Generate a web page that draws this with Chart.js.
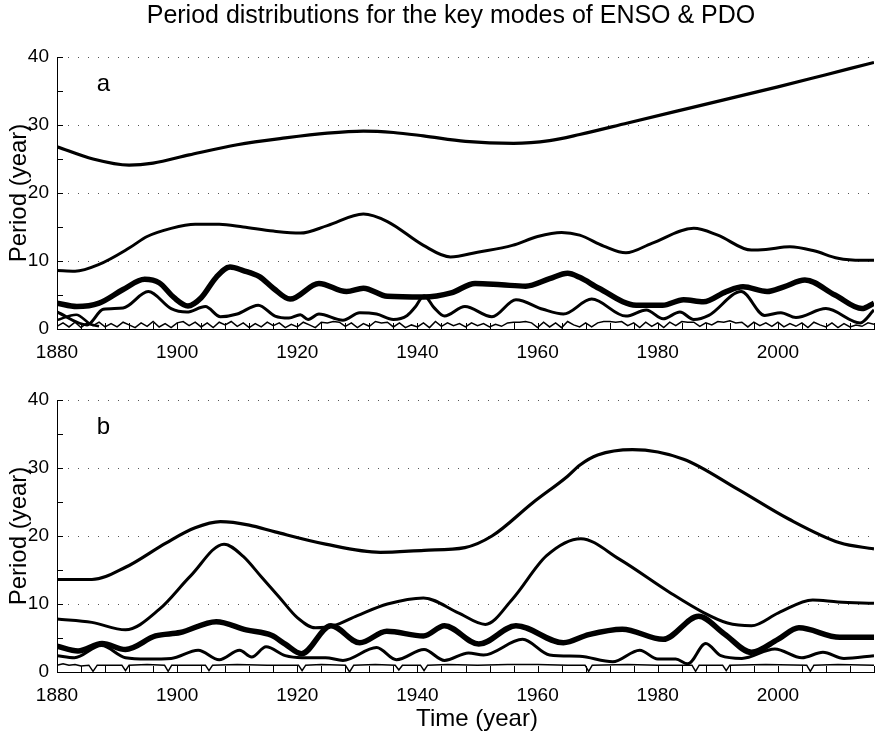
<!DOCTYPE html>
<html>
<head>
<meta charset="utf-8">
<script src="https://cdn.jsdelivr.net/npm/chart.js@4/dist/chart.umd.min.js"></script>
<style>
  html, body { margin: 0; padding: 0; background: #fff; }
  #wrap { position: relative; width: 878px; height: 738px; overflow: hidden; font-family: "Liberation Sans", Arial, sans-serif; }
  #title { position: absolute; left: 0; top: 0; width: 902px; text-align: center; font-size: 25px; line-height: 28px; color: #000; }
  #xtitle { position: absolute; left: 0; top: 704px; width: 954px; text-align: center; font-size: 24px; line-height: 28px; color: #000; }
  #ca { position: absolute; left: 0; top: 0; }
  #cb { position: absolute; left: 0; top: 370px; }
</style>
</head>
<body>
<div id="wrap">
  <canvas id="ca" width="878" height="370"></canvas>
  <canvas id="cb" width="878" height="368"></canvas>
  <div id="title">Period distributions for the key modes of ENSO &amp; PDO</div>
  <div id="xtitle">Time (year)</div>
</div>
<script>
// ---- panel a ----
const aTopYears = [1880, 1886, 1892, 1896, 1902, 1910, 1918, 1925, 1931, 1936, 1941, 1948, 1956, 1962, 1967, 1975, 1983, 1991, 2000, 2008, 2016];
const aTopVals = [26.8, 25.0, 24.1, 24.4, 25.6, 27.1, 28.1, 28.8, 29.1, 28.9, 28.4, 27.6, 27.3, 27.7, 28.6, 30.3, 32.0, 33.7, 35.6, 37.4, 39.2];

const aMidYears = [1880, 1883, 1887, 1892, 1895, 1899, 1903, 1907, 1911, 1916, 1920.5, 1925, 1931, 1935, 1941, 1945.5, 1950, 1955.8, 1960, 1964, 1967, 1971, 1974.7, 1979, 1986, 1990, 1995.6, 1998, 2002, 2006, 2010, 2014, 2016];
const aMidVals = [8.6, 8.5, 9.5, 11.9, 13.6, 14.8, 15.4, 15.4, 15.0, 14.4, 14.1, 15.2, 16.9, 15.8, 12.3, 10.6, 11.3, 12.3, 13.6, 14.2, 13.8, 12.2, 11.2, 12.6, 14.8, 13.8, 11.6, 11.7, 12.1, 11.5, 10.4, 10.1, 10.1];

const aThickYears = [1880, 1883.3, 1887, 1891, 1894.6, 1897, 1899.5, 1901.8, 1904, 1906.5, 1908.8, 1911, 1913.7, 1916, 1918.8, 1923.6, 1928.2, 1931, 1935, 1941, 1945.6, 1949.6, 1954, 1958, 1962, 1965, 1967, 1970.2, 1976.4, 1980.8, 1984.3, 1987.6, 1991.4, 1994.2, 1998.2, 2001, 2004.5, 2009.5, 2014, 2016];
const aThickVals = [3.8, 3.3, 3.8, 5.8, 7.3, 6.8, 4.6, 3.4, 4.6, 7.6, 9.1, 8.6, 7.7, 6.0, 4.4, 6.7, 5.5, 6.0, 4.8, 4.7, 5.3, 6.7, 6.5, 6.3, 7.4, 8.2, 7.6, 6.0, 3.5, 3.5, 4.3, 4.0, 5.5, 6.2, 5.5, 6.2, 7.2, 5.0, 3.0, 3.8];

const aMedYears = [1880, 1885, 1887.7, 1891, 1895.2, 1899, 1901.6, 1904.7, 1907.2, 1910, 1913.5, 1916.3, 1918.6, 1920.5, 1921.8, 1923.6, 1927.6, 1930.4, 1933.2, 1936, 1938.3, 1939.7, 1941.1, 1942.8, 1944.5, 1947.9, 1952.4, 1956.4, 1960.9, 1964.3, 1969, 1974.7, 1978.1, 1980.9, 1983.7, 1986, 1988.5, 1993.9, 1997.8, 2000.5, 2003, 2008, 2013.7, 2016];
const aMedVals = [2.5, 0.6, 2.9, 3.1, 5.5, 3.0, 2.5, 3.3, 1.8, 2.2, 3.5, 1.9, 1.6, 2.1, 1.4, 2.2, 1.3, 2.4, 2.2, 1.4, 2.0, 3.3, 4.9, 3.1, 1.9, 3.3, 1.8, 4.3, 2.9, 2.2, 4.4, 1.9, 2.8, 1.5, 2.5, 1.4, 2.0, 5.5, 2.0, 2.4, 1.7, 3.0, 0.9, 2.8];

const aShortYears = [1880, 1883.2, 1885.6, 1887];
const aShortVals = [1.3, 2.1, 0.7, 0.4];

// yearly, 1880..2016
const aThinVals = [
  0.4, 0.9, 0.3, 1.0, 0.2, 0.9, 0.5, 1.0, 0.3, 0.8,
  0.3, 1.0, 0.6, 0.2, 0.9, 0.4, 1.1, 0.3, 0.8, 0.2,
  0.9, 1.1, 0.5, 1.0, 0.3, 0.9, 0.2, 1.0, 0.6, 1.1,
  0.4, 0.9, 0.2, 0.8, 0.3, 1.0, 0.5, 0.9, 0.2, 0.7,
  0.3, 1.0, 0.6, 0.2, 1.0, 0.9, 1.1, 1.0, 0.4, 0.9,
  0.2, 0.8, 0.4, 1.1, 0.9, 1.0, 0.3, 0.9, 0.2, 0.6,
  0.3, 0.9, 0.2, 1.1, 0.4, 0.9, 0.5, 0.8, 0.3, 0.9,
  0.5, 0.8, 0.3, 0.7, 0.4, 0.9, 1.0, 1.0, 1.1, 0.9,
  0.2, 1.0, 0.3, 0.9, 0.2, 1.1, 0.6, 0.3, 0.9, 0.3,
  0.9, 1.1, 1.1, 1.0, 1.1, 0.5, 0.9, 0.2, 1.0, 0.4,
  0.9, 0.2, 1.0, 0.5, 1.1, 1.0, 1.0, 0.4, 0.9, 0.6,
  1.1, 1.0, 1.2, 0.9, 1.0, 0.3, 1.0, 0.5, 0.9, 0.4,
  1.0, 0.3, 0.8, 0.4, 0.9, 0.2, 1.0, 0.6, 0.3, 0.9,
  0.2, 0.8, 0.3, 0.6, 0.4, 0.9, 0.7
];

// ---- panel b ----
const bTopYears = [1880, 1885.8, 1891.4, 1898.2, 1903, 1907.2, 1912, 1916.3, 1924.7, 1933.8, 1941.1, 1947.9, 1952.4, 1959.2, 1965, 1967, 1970, 1975.8, 1984.3, 1993.3, 2001.8, 2010.3, 2016];
const bTopVals = [13.6, 13.6, 15.4, 19.0, 21.2, 22.1, 21.6, 20.6, 18.8, 17.6, 17.9, 18.3, 20.0, 24.9, 28.8, 30.4, 31.9, 32.7, 31.3, 26.9, 22.5, 19.0, 18.1];

const bMidYears = [1880, 1885.8, 1891.4, 1897, 1902.2, 1907.8, 1911, 1914, 1917, 1920, 1923, 1926, 1930, 1935, 1941, 1946.8, 1951.3, 1955.8, 1961.5, 1967.2, 1973.6, 1982, 1987.7, 1991.6, 1995.6, 2000.1, 2005.8, 2010, 2016];
const bMidVals = [7.8, 7.3, 6.2, 9.2, 14.1, 18.8, 17.0, 14.0, 11.0, 8.0, 6.5, 6.8, 8.3, 10.0, 10.9, 8.7, 7.0, 10.7, 17.1, 19.6, 16.6, 11.7, 8.7, 7.2, 6.8, 8.7, 10.6, 10.3, 10.1];

const bThickYears = [1880, 1883.5, 1887.5, 1891.4, 1896.4, 1900.5, 1906.5, 1911.5, 1915.7, 1918, 1920.7, 1925.6, 1930.4, 1934.9, 1941, 1944.5, 1950.2, 1956.4, 1964.3, 1968.5, 1974.1, 1980.9, 1986.8, 1991.1, 1995.6, 2000, 2003.5, 2010.3, 2016];
const bThickVals = [3.8, 3.1, 4.2, 3.3, 5.3, 5.8, 7.4, 6.2, 5.4, 4.1, 2.7, 6.8, 4.3, 6.0, 5.3, 6.8, 4.1, 6.8, 4.3, 5.5, 6.3, 4.8, 8.2, 5.6, 2.9, 4.8, 6.5, 5.1, 5.1];

const bMedYears = [1880, 1882.9, 1887.4, 1891.4, 1895, 1899, 1903.5, 1907, 1910.4, 1912.4, 1914.8, 1918, 1920.8, 1924.7, 1927.6, 1933.2, 1936.5, 1941.1, 1944.5, 1948.5, 1951, 1957.5, 1962, 1967, 1972.5, 1977, 1980, 1983, 1985, 1988, 1990.5, 1994, 1999.5, 2004, 2007.5, 2011, 2016];
const bMedVals = [2.4, 2.1, 3.9, 2.1, 1.9, 2.0, 3.2, 1.8, 3.2, 2.2, 3.7, 2.4, 2.1, 2.1, 1.7, 3.6, 1.8, 3.3, 1.7, 2.8, 2.5, 4.8, 2.5, 2.3, 1.5, 3.2, 1.9, 1.9, 1.2, 4.2, 2.4, 2.0, 3.4, 2.1, 2.9, 2.0, 2.4];

const bThinYears = [1880, 1881, 1882, 1883, 1884, 1885.3, 1886, 1886.7, 1889, 1890.8, 1891.4, 1892, 1895, 1897.9, 1898.5, 1899.1, 1902, 1904.7, 1905.3, 1905.9, 1910, 1915, 1920.2, 1920.8, 1921.4, 1924, 1928, 1928.7, 1929.4, 1933, 1936.3, 1936.9, 1937.5, 1940.5, 1941.1, 1941.7, 1945, 1950, 1955, 1960, 1965, 1967.9, 1968.5, 1969.1, 1975, 1980, 1985.7, 1986.3, 1986.9, 1990.8, 1991.4, 1992, 1998, 2004.8, 2005.4, 2006, 2010, 2016];
const bThinVals = [1.0, 1.2, 1.0, 1.1, 0.9, 1.0, 0.1, 1.0, 1.0, 1.0, 0.2, 1.0, 1.1, 1.0, 0.1, 1.0, 1.0, 1.0, 0.2, 1.0, 1.1, 1.0, 1.0, 0.2, 1.0, 1.1, 1.0, 0.0, 1.0, 1.1, 1.0, 0.3, 1.0, 1.0, 0.2, 1.0, 1.1, 1.0, 1.1, 1.1, 1.0, 1.0, 0.1, 1.0, 1.1, 1.0, 1.0, 0.1, 1.0, 1.0, 0.2, 1.0, 1.1, 1.0, 0.1, 1.0, 1.1, 1.0];

const xLabelEvery = 20;
const yTicks = [0, 10, 20, 30, 40];

Chart.defaults.font.family = "'Liberation Sans', Arial, sans-serif";
Chart.defaults.font.size = 19;
Chart.defaults.color = "#000";

const pts = (xs, ys) => xs.map((x, i) => ({ x, y: ys[i] }));
const smooth = (xs, ys, w) => ({ data: pts(xs, ys), borderColor: "#000", borderWidth: w, cubicInterpolationMode: "monotone", pointRadius: 0 });
const jagged = (xs, ys, w) => ({ data: pts(xs, ys), borderColor: "#000", borderWidth: w, tension: 0, pointRadius: 0 });

const innerTicks = {
  id: "innerTicks",
  afterDraw(chart, args, opts) {
    const { ctx, chartArea: a, scales: { x, y } } = chart;
    ctx.save();
    ctx.strokeStyle = "#000";
    ctx.lineWidth = 1;
    ctx.beginPath();
    x.ticks.forEach((t) => {
      const px = Math.round(x.getPixelForValue(t.value)) + 0.5;
      ctx.moveTo(px, a.bottom);
      ctx.lineTo(px, a.bottom - 6);
    });
    y.ticks.forEach((t) => {
      const py = Math.round(y.getPixelForValue(t.value)) + 0.5;
      ctx.moveTo(a.left, py);
      ctx.lineTo(a.left + 6, py);
    });
    ctx.stroke();
    ctx.font = "24px 'Liberation Sans', Arial, sans-serif";
    ctx.fillStyle = "#000";
    ctx.textBaseline = "alphabetic";
    ctx.fillText(opts.letter, x.getPixelForValue(1886.6), y.getPixelForValue(35.0));
    ctx.restore();
  },
};

function makePanel(id, datasets, letter, padTop, xHeight) {
  return new Chart(document.getElementById(id), {
    type: "line",
    data: { datasets },
    plugins: [innerTicks],
    options: {
      responsive: false,
      animation: false,
      devicePixelRatio: 1,
      layout: { padding: { top: padTop, left: 0, right: 0, bottom: 0 } },
      plugins: { legend: { display: false }, tooltip: { enabled: false }, innerTicks: { letter } },
      scales: {
        x: {
          type: "linear",
          min: 1880,
          max: 2016,
          grid: { display: false },
          border: { color: "#000", width: 1 },
          ticks: {
            stepSize: 4,
            autoSkip: false,
            maxRotation: 0,
            padding: 4,
            callback: (v) => ((Math.round(v) - 1880) % xLabelEvery === 0 ? String(Math.round(v)) : ""),
          },
          afterFit: (s) => { s.height = xHeight; },
        },
        y: {
          min: 0,
          max: 40,
          ticks: { stepSize: 5, padding: 8, callback: (v) => (yTicks.includes(v) ? String(v) : "") },
          grid: {
            drawTicks: false,
            color: (c) => (c.tick && c.tick.value > 0 && yTicks.includes(c.tick.value) ? "#555" : "rgba(0,0,0,0)"),
          },
          border: { color: "#000", width: 1, dash: [1, 9] },
          title: { display: true, text: "Period (year)", font: { size: 24 }, padding: { top: 5, bottom: 0 } },
          afterFit: (s) => { s.width = 57; },
        },
      },
    },
  });
}

makePanel("ca", [
  smooth(aTopYears, aTopVals, 3.2),
  smooth(aMidYears, aMidVals, 3),
  smooth(aThickYears, aThickVals, 5.5),
  smooth(aMedYears, aMedVals, 3),
  smooth(aShortYears, aShortVals, 2.5),
  jagged(aThinVals.map((v, i) => 1880 + i), aThinVals, 1.5),
], "a", 57, 41);

makePanel("cb", [
  smooth(bTopYears, bTopVals, 3.2),
  smooth(bMidYears, bMidVals, 3),
  smooth(bThickYears, bThickVals, 5.5),
  smooth(bMedYears, bMedVals, 3),
  jagged(bThinYears, bThinVals, 1.5),
], "b", 30, 66);
</script>
</body>
</html>
